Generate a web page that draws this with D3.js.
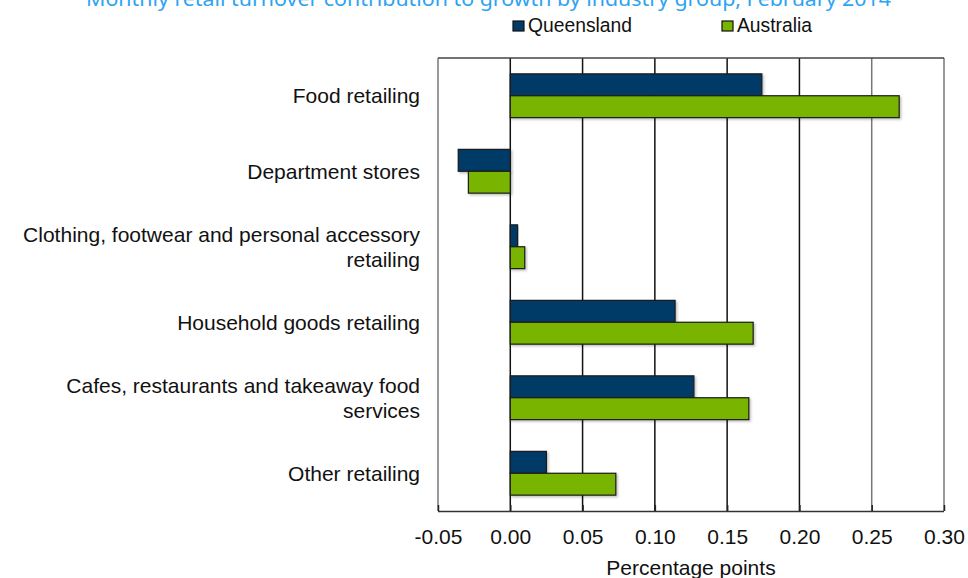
<!DOCTYPE html>
<html>
<head>
<meta charset="utf-8">
<script src="https://cdn.jsdelivr.net/npm/d3@7"></script>
<style>
  body { margin: 0; background: #fff; }
  svg { display: block; font-family: "Liberation Sans", Arial, sans-serif; }
</style>
</head>
<body>
<svg id="chart" width="968" height="578"></svg>
<script>
// data
const categories = [
    "Food retailing",
    "Department stores",
    "Clothing, footwear and personal accessory retailing",
    "Household goods retailing",
    "Cafes, restaurants and takeaway food services",
    "Other retailing"
];
const labelLines = [
    ["Food retailing"],
    ["Department stores"],
    ["Clothing, footwear and personal accessory", "retailing"],
    ["Household goods retailing"],
    ["Cafes, restaurants and takeaway food", "services"],
    ["Other retailing"]
];
const seriesNames = ["Queensland", "Australia"];
const queensland = [0.174, -0.036, 0.005, 0.114, 0.127, 0.025];
const australia = [0.269, -0.029, 0.010, 0.168, 0.165, 0.073];
const tickValues = [-0.05, 0, 0.05, 0.10, 0.15, 0.20, 0.25, 0.30];

const colors = ["#023a68", "#78b400"];
const rows = categories.map((c, i) => ({ cat: c, values: [queensland[i], australia[i]] }));

const svg = d3.select("#chart");
const plotL = 438, plotR = 944, plotT = 58, plotB = 511;
const fs = "21px";

const x = d3.scaleLinear().domain([-0.05, 0.30]).range([plotL, plotR]);
const y = d3.scaleBand().domain(categories).range([plotT, plotB]).paddingInner(0.42).paddingOuter(0.21);
const ySub = d3.scaleBand().domain(seriesNames).range([0, y.bandwidth()]);

// title (cut off at top)
svg.append("text")
    .attr("x", 86).attr("y", 6)
    .attr("textLength", 805)
    .attr("lengthAdjust", "spacingAndGlyphs")
    .attr("fill", "#2ea3f2")
    .style("font-family", "'Noto Sans', sans-serif")
    .style("font-size", "20px")
    .text("Monthly retail turnover contribution to growth by industry group, February 2014");

// legend
const legend = svg.append("g");
[513, 722].forEach((lx, i) => {
    legend.append("rect")
        .attr("x", lx).attr("y", 21).attr("width", 11).attr("height", 10)
        .attr("fill", colors[i]).attr("stroke", "#111").attr("stroke-width", 1.2);
    legend.append("text")
        .attr("x", lx + 15).attr("y", 31.5)
        .style("font-size", "19.3px").attr("fill", "#111")
        .text(seriesNames[i]);
});

// gridlines
svg.append("g").selectAll("line")
    .data(tickValues)
    .enter().append("line")
    .attr("x1", d => x(d)).attr("x2", d => x(d))
    .attr("y1", plotT).attr("y2", plotB)
    .attr("stroke", d => (d >= 0.25 || d < 0) ? "#777" : "#111")
    .attr("stroke-width", 1.5);

// frame top
svg.append("line")
    .attr("x1", plotL).attr("x2", plotR).attr("y1", plotT).attr("y2", plotT)
    .attr("stroke", "#444").attr("stroke-width", 1.5);

// drop shadow
const defs = svg.append("defs");
defs.append("filter").attr("id", "shadow")
    .attr("x", "-10%").attr("y", "-20%").attr("width", "130%").attr("height", "150%")
    .append("feDropShadow")
    .attr("dx", 1.5).attr("dy", 1.5).attr("stdDeviation", 1)
    .attr("flood-color", "#000").attr("flood-opacity", 0.25);

// bars
const groups = svg.append("g").selectAll("g")
    .data(rows)
    .enter().append("g")
    .attr("transform", d => `translate(0,${y(d.cat)})`);

groups.selectAll("rect")
    .data(d => d.values.map((v, i) => ({ v: v, s: seriesNames[i], i: i })))
    .enter().append("rect")
    .attr("x", d => x(Math.min(0, d.v)))
    .attr("width", d => Math.abs(x(d.v) - x(0)))
    .attr("y", d => ySub(d.s))
    .attr("height", ySub.bandwidth())
    .attr("fill", d => colors[d.i])
    .attr("stroke", "#1a1a1a")
    .attr("stroke-width", 1.2)
    .attr("filter", "url(#shadow)");

// x axis
const fmt = d3.format(".2f");
const xAxis = svg.append("g")
    .attr("transform", `translate(0,${plotB})`)
    .call(d3.axisBottom(x).tickValues(tickValues).tickSize(6).tickSizeOuter(0)
        .tickFormat(d => fmt(d).replace("\u2212", "-")));
xAxis.select(".domain").attr("stroke", "#333").attr("stroke-width", 1.5)
    .attr("d", `M${plotL},0.5H${plotR}`);
xAxis.selectAll(".tick line").attr("stroke", "#222").attr("stroke-width", 1.5)
    .attr("y1", -6).attr("y2", 0);
xAxis.selectAll(".tick text")
    .attr("y", 33).attr("dy", null)
    .style("font-size", fs).style("font-family", "'Liberation Sans', Arial, sans-serif")
    .attr("fill", "#111");

svg.append("text")
    .attr("x", (plotL + plotR) / 2).attr("y", 575)
    .attr("text-anchor", "middle")
    .style("font-size", fs).attr("fill", "#111")
    .text("Percentage points");

// category labels
const labels = svg.append("g").selectAll("text")
    .data(rows)
    .enter().append("text")
    .attr("text-anchor", "end")
    .style("font-size", fs).attr("fill", "#111")
    .attr("transform", d => `translate(420,${y(d.cat) + y.bandwidth() / 2})`);

labels.each(function (d, i) {
    const lines = labelLines[i];
    const lh = 25;
    const start = -(lines.length - 1) * lh / 2;
    d3.select(this).selectAll("tspan")
        .data(lines)
        .enter().append("tspan")
        .attr("x", 0)
        .attr("y", (l, j) => start + j * lh)
        .attr("dy", "0.35em")
        .text(l => l);
});
</script>
</body>
</html>
